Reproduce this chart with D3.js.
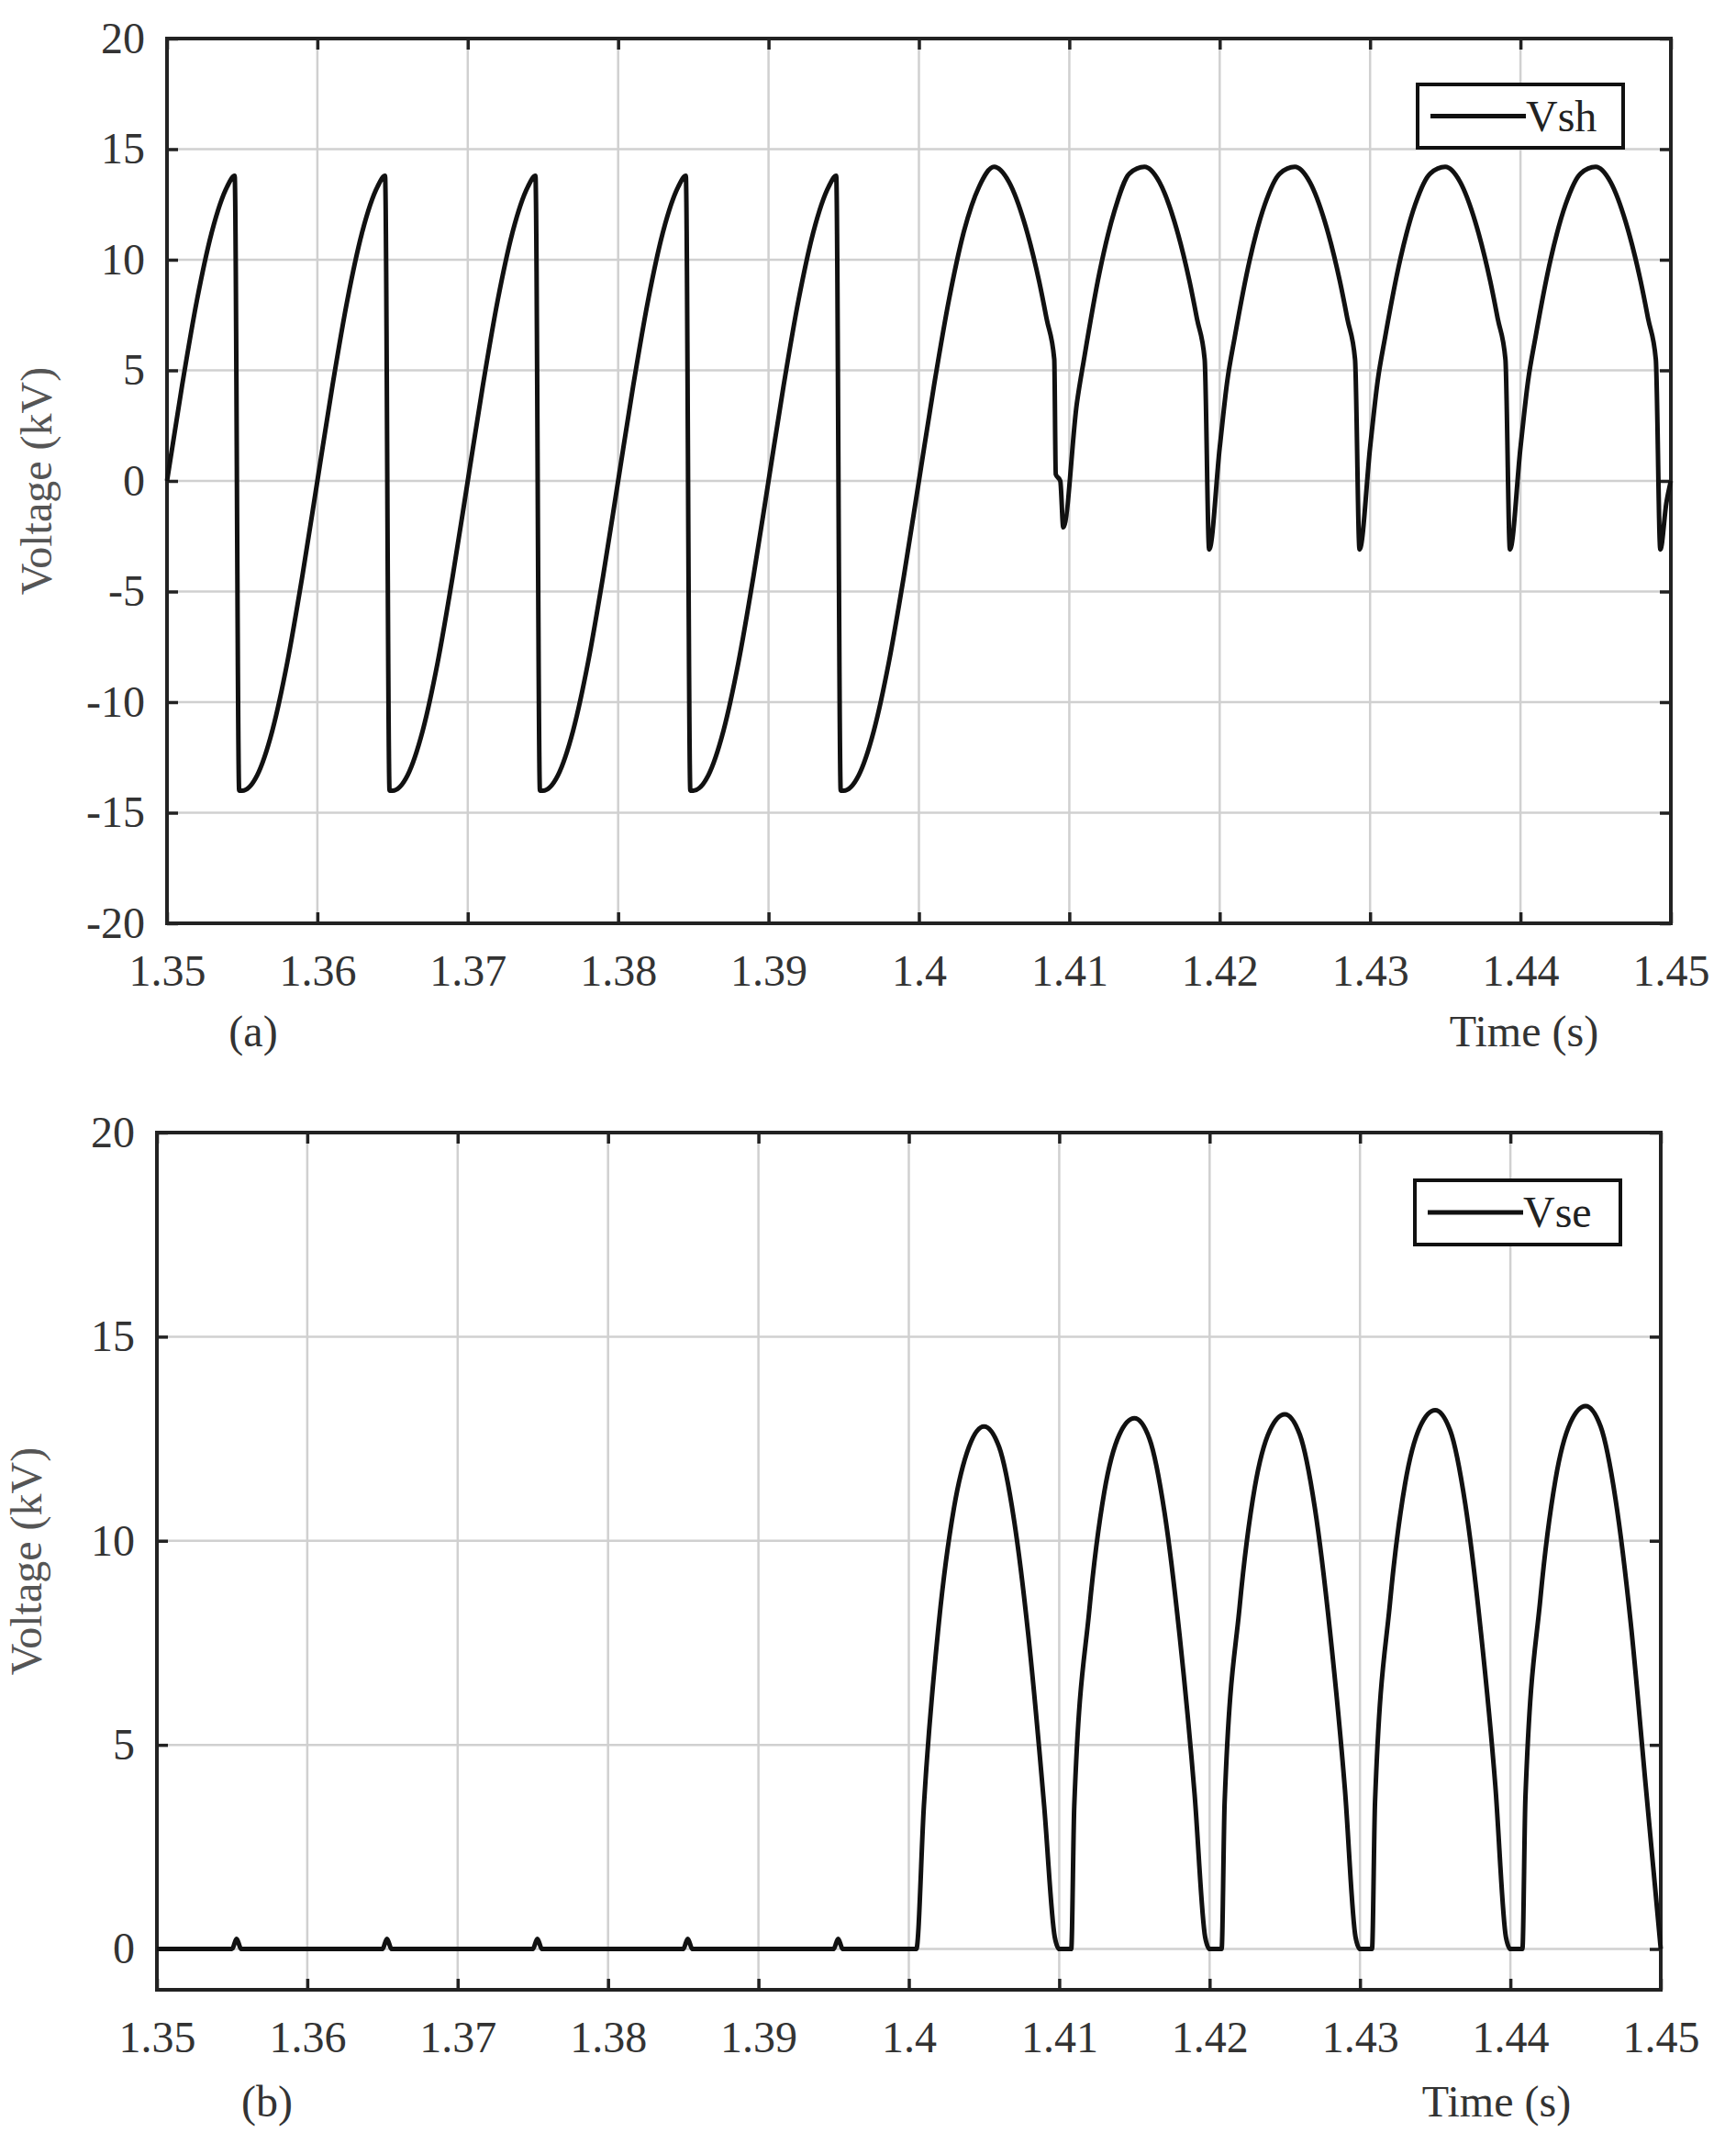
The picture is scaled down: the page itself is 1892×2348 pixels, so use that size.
<!DOCTYPE html>
<html><head><meta charset="utf-8">
<script src="https://cdn.jsdelivr.net/npm/d3@7"></script>
<style>body{margin:0;background:#fff}</style></head>
<body><svg id="c" width="1892" height="2348"></svg>
<script>
const xTicks=[1.35,1.36,1.37,1.38,1.39,1.4,1.41,1.42,1.43,1.44,1.45];
const yTicksA=[-20,-15,-10,-5,0,5,10,15,20];
const yTicksB=[0,5,10,15,20];
const tA=[1.350,1.351,1.352,1.353,1.354,1.3545,1.3548,1.355,1.356,1.357,1.358,1.359,1.360,1.361,1.362,1.363,1.364,1.3645,1.3648,1.365,1.366,1.367,1.368,1.369,1.370,1.371,1.372,1.373,1.374,1.3745,1.3748,1.375,1.376,1.377,1.378,1.379,1.380,1.381,1.382,1.383,1.384,1.3845,1.3848,1.385,1.386,1.387,1.388,1.389,1.390,1.391,1.392,1.393,1.394,1.3945,1.3948,1.395,1.396,1.397,1.398,1.399,1.400,1.401,1.402,1.403,1.404,1.405,1.406,1.407,1.408,1.4085,1.409,1.4091,1.4094,1.4096,1.4105,1.411,1.412,1.413,1.414,1.415,1.416,1.417,1.418,1.4185,1.419,1.4193,1.4200,1.4205,1.421,1.422,1.423,1.424,1.425,1.426,1.427,1.428,1.4285,1.429,1.4293,1.4300,1.4305,1.431,1.432,1.433,1.434,1.435,1.436,1.437,1.438,1.4385,1.439,1.4393,1.4400,1.4405,1.441,1.442,1.443,1.444,1.445,1.446,1.447,1.448,1.4485,1.449,1.4493,1.4497,1.450];
const vA=[0,4.3,8.2,11.3,13.3,13.8,-14,-14,-13.3,-11.3,-8.2,-4.3,0,4.3,8.2,11.3,13.3,13.8,-14,-14,-13.3,-11.3,-8.2,-4.3,0,4.3,8.2,11.3,13.3,13.8,-14,-14,-13.3,-11.3,-8.2,-4.3,0,4.3,8.2,11.3,13.3,13.8,-14,-14,-13.3,-11.3,-8.2,-4.3,0,4.3,8.2,11.3,13.3,13.8,-14,-14,-13.3,-11.3,-8.2,-4.3,0,4.3,8.2,11.3,13.3,14.2,13.5,11.7,9.0,7.3,5.5,0.3,0,-2.1,3.5,5.6,9.4,12.2,13.9,14.2,13.5,11.7,9.0,7.3,5.5,-3.1,1.5,4.5,6.5,10,12.5,13.9,14.2,13.5,11.7,9.0,7.3,5.5,-3.1,1.5,4.5,6.5,10,12.5,13.9,14.2,13.5,11.7,9.0,7.3,5.5,-3.1,1.5,4.5,6.5,10,12.5,13.9,14.2,13.5,11.7,9.0,7.3,5.5,-3.1,-1,0];
const tB=[1.350,1.3550,1.3553,1.3556,1.3650,1.3653,1.3656,1.3750,1.3753,1.3756,1.3850,1.3853,1.3856,1.3950,1.3953,1.3956,1.4005,1.401,1.402,1.403,1.404,1.405,1.406,1.407,1.408,1.409,1.4097,1.4100,1.4108,1.411,1.412,1.413,1.414,1.415,1.416,1.417,1.418,1.419,1.4197,1.4200,1.4208,1.421,1.422,1.423,1.424,1.425,1.426,1.427,1.428,1.429,1.4297,1.4300,1.4308,1.431,1.432,1.433,1.434,1.435,1.436,1.437,1.438,1.439,1.4397,1.4400,1.4408,1.441,1.442,1.443,1.444,1.445,1.446,1.447,1.448,1.449,1.450];
const vB=[0,0,0.25,0,0,0.25,0,0,0.25,0,0,0.25,0,0,0.25,0,0,3.5,8.0,10.8,12.3,12.8,12.3,10.5,7.5,3.5,0.3,0,0,3.5,8.3,11.2,12.6,13.0,12.5,10.7,7.7,3.8,0.3,0,0,3.6,8.4,11.3,12.7,13.1,12.6,10.8,7.8,3.9,0.3,0,0,3.6,8.5,11.4,12.8,13.2,12.7,10.9,7.9,4.0,0.3,0,0,3.7,8.6,11.5,12.9,13.3,12.8,11.0,8.0,4.0,0];

const svg=d3.select('#c');
const font="'Liberation Serif','Times New Roman',serif";
const fmtY=d=>String(d);
function panel(o){
  const x=d3.scaleLinear().domain([1.35,1.45]).range([o.l,o.r]);
  const y=d3.scaleLinear().domain(o.yd).range([o.b,o.t]);
  const g=svg.append('g');
  g.selectAll('.gx').data(xTicks).join('line').attr('x1',d=>x(d)).attr('x2',d=>x(d)).attr('y1',o.t).attr('y2',o.b).attr('stroke','#d0d0d0').attr('stroke-width',2.5);
  g.selectAll('.gy').data(o.yt).join('line').attr('y1',d=>y(d)).attr('y2',d=>y(d)).attr('x1',o.l).attr('x2',o.r).attr('stroke','#d0d0d0').attr('stroke-width',2.5);
  const ax=(gen,tr)=>g.append('g').attr('transform',tr).call(gen).call(s=>{s.select('.domain').remove();s.selectAll('line').attr('stroke','#222').attr('stroke-width',3.5);s.selectAll('text').attr('font-family',font).attr('font-size',48).attr('fill','#333');});
  ax(d3.axisBottom(x).tickValues(xTicks).tickSize(-12).tickPadding(34).tickFormat(d3.format('~g')),`translate(0,${o.b})`);
  ax(d3.axisTop(x).tickValues(xTicks).tickSize(-12).tickFormat(''),`translate(0,${o.t})`);
  ax(d3.axisLeft(y).tickValues(o.yt).tickSize(-12).tickPadding(24).tickFormat(fmtY),`translate(${o.l},0)`);
  ax(d3.axisRight(y).tickValues(o.yt).tickSize(-12).tickFormat(''),`translate(${o.r},0)`);
  g.append('rect').attr('x',o.l).attr('y',o.t).attr('width',o.r-o.l).attr('height',o.b-o.t).attr('fill','none').attr('stroke','#222').attr('stroke-width',4);
  const line=d3.line().x(d=>x(d[0])).y(d=>y(d[1])).curve(d3.curveMonotoneX);
  g.append('path').datum(o.t_.map((t,i)=>[t,o.v[i]])).attr('d',line).attr('fill','none').attr('stroke','#111').attr('stroke-width',5);
  const L=o.leg;
  g.append('rect').attr('x',L[0]).attr('y',L[1]).attr('width',L[2]).attr('height',L[3]).attr('fill','#fff').attr('stroke','#111').attr('stroke-width',4);
  g.append('line').attr('x1',L[0]+14).attr('x2',L[0]+118).attr('y1',L[1]+L[3]/2).attr('y2',L[1]+L[3]/2).attr('stroke','#111').attr('stroke-width',5);
  g.append('text').attr('x',L[0]+118).attr('y',L[1]+L[3]/2+16).text(o.name).attr('font-family',font).attr('font-size',48).attr('fill','#222');
  g.append('text').attr('transform',`translate(${o.l-126},${(o.t+o.b)/2}) rotate(-90)`).attr('text-anchor','middle').text('Voltage (kV)').attr('font-family',font).attr('font-size',48).attr('fill','#555');
  g.append('text').attr('x',o.lab[0]).attr('y',o.lab[1]).attr('text-anchor','middle').text(o.tag).attr('font-family',font).attr('font-size',48).attr('fill','#333');
  g.append('text').attr('x',o.tim[0]).attr('y',o.tim[1]).attr('text-anchor','middle').text('Time (s)').attr('font-family',font).attr('font-size',48).attr('fill','#333');
}
panel({l:182,r:1821,t:42,b:1006,yd:[-20,20],yt:yTicksA,t_:tA,v:vA,leg:[1545,92,224,69],name:'Vsh',tag:'(a)',lab:[276,1140],tim:[1661,1140]});
panel({l:171,r:1810,t:1234,b:2168,yd:[-1,20],yt:yTicksB,t_:tB,v:vB,leg:[1542,1286,224,70],name:'Vse',tag:'(b)',lab:[291,2306],tim:[1631,2306]});
</script></body></html>
